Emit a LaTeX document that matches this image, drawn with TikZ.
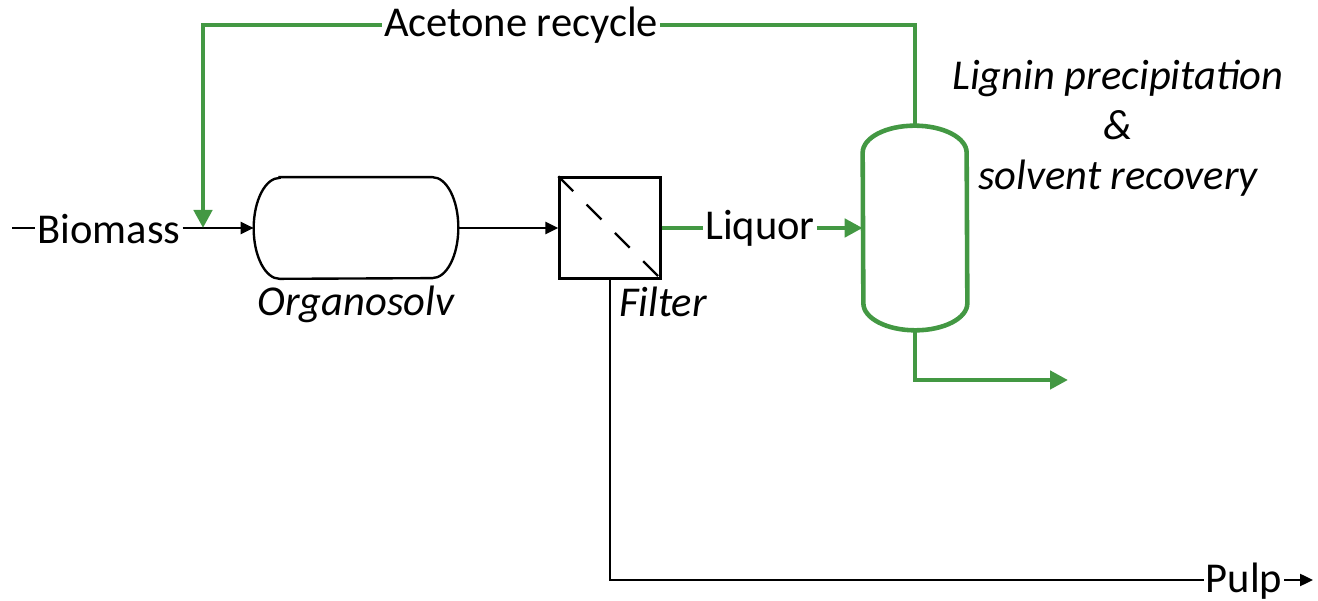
\documentclass[tikz,border=0pt]{standalone}
\usepackage{xcolor}
\usepackage{fontspec}
\setmainfont{Carlito}
\usepackage{tikz}
\usetikzlibrary{arrows.meta, positioning}

\definecolor{solvgreen}{RGB}{67,152,67}

\begin{document}
\begin{tikzpicture}[
        x=0.02cm, y=0.02cm,
        font=\fontsize{24.2}{28.5}\selectfont,
        txt/.style={inner sep=1pt},
        vessel/.style={rectangle, inner sep=0pt},
        line/.style={line width=1.35pt},
        arrow/.style={line, -{Triangle[length=0.26cm, width=0.24cm]}},
        gline/.style={solvgreen, line width=2.6pt},
        garrow/.style={gline, -{Triangle[length=0.36cm, width=0.36cm]}}
    ]
        \useasboundingbox (0,0) rectangle (1318,601);

        % Nodes
        \node[vessel, minimum width=4.08cm, minimum height=2.02cm] (org) at (356,373) {};
        \node[line, draw, minimum size=2.02cm, inner sep=0pt] (filt) at (610,373) {};
        \node[vessel, minimum width=2.08cm, minimum height=4.08cm] (sep) at (915,373) {};

        \node[txt] (bio) at (109,372) {Biomass};
        \node[txt] (rec) at (521,576) {Acetone recycle};
        \node[txt] (liq) at (760,373) {Liquor};
        \node[txt] (pulp) at (1244,20) {Pulp};

        \node[txt, font=\fontsize{24.2}{28.5}\selectfont\itshape, below=0.1cm of org] (orglab) {Organosolv};
        \node[txt, font=\fontsize{24.2}{28.5}\selectfont\itshape, anchor=north west] (filtlab) at ([xshift=0.14cm, yshift=-0.1cm]filt.south) {Filter};
        \node[txt, font=\fontsize{24.2}{28.5}\selectfont\itshape, align=center] (seplab) at (1118,473) {Lignin precipitation\\\&\\solvent recovery};

        \coordinate (bin) at (12,373);
        \coordinate (mix) at (203,373);
        \coordinate (sout) at (1068,221);
        \coordinate (pend) at (1313,21);

        % Vessels
        \draw[line] ([xshift=0.52cm]org.north west) -- ([xshift=-0.52cm]org.north east)
            arc[start angle=90, end angle=-90, x radius=0.52cm, y radius=1.01cm]
            -- ([xshift=0.52cm]org.south west)
            arc[start angle=270, end angle=90, x radius=0.52cm, y radius=1.01cm] -- cycle;
        \draw[line, dash pattern=on 0.42cm off 0.38cm] (filt.north west) -- (filt.south east);
        \draw[gline] ([yshift=-0.54cm]sep.north west)
            arc[start angle=180, end angle=0, x radius=1.04cm, y radius=0.54cm]
            -- ([yshift=0.54cm]sep.south east)
            arc[start angle=0, end angle=-180, x radius=1.04cm, y radius=0.54cm] -- cycle;

        % Arrows
        \draw[line] (bin) -- (bio.west |- bin);
        \draw[arrow] (bio.east |- mix) -- (org);
        \draw[arrow] (org) -- (filt);
        \draw[gline] (filt) -- (liq);
        \draw[garrow] (liq) -- (sep);
        \draw[gline] (sep.north) |- (rec);
        \draw[garrow] (rec) -| (mix);
        \draw[garrow] (sep.south) |- (sout);
        \draw[line] (filt.south) |- (pulp.west |- pend);
        \draw[arrow] (pulp.east |- pend) -- (pend);

    \end{tikzpicture}
\end{document}
